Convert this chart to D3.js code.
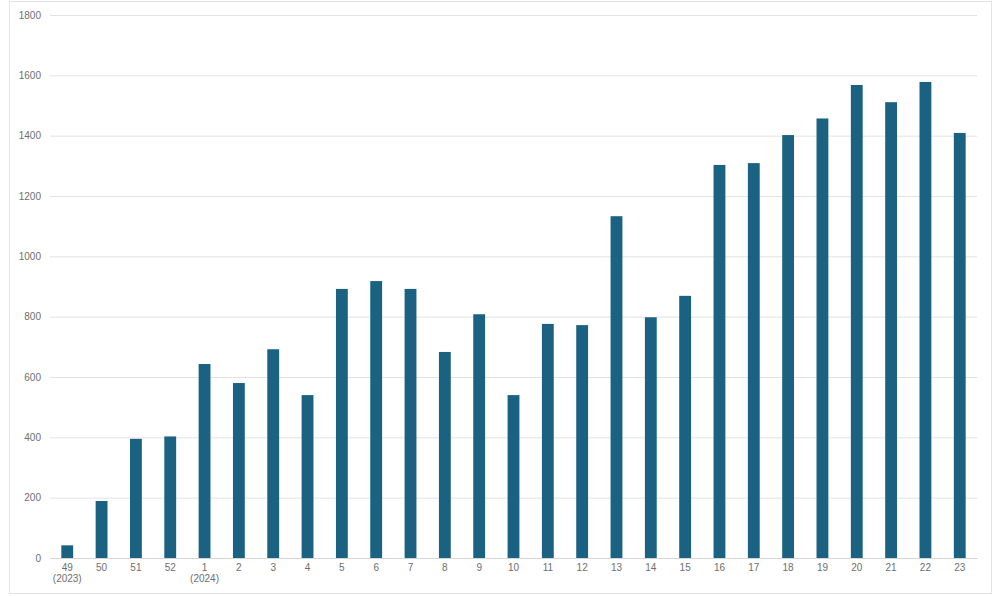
<!DOCTYPE html>
<html><head><meta charset="utf-8">
<script src="https://cdn.jsdelivr.net/npm/d3@7"></script>
<style>body{margin:0;background:#fff;} svg{display:block;}</style>
</head><body>
<svg id="c" width="1000" height="596"></svg>
<script>
const weeks = ["49","50","51","52","1","2","3","4","5","6","7","8","9","10","11","12","13","14","15","16","17","18","19","20","21","22","23"];
const yearLabels = {"49":"(2023)","1":"(2024)"};
const values = [42,189,395,403,643,580,692,540,892,918,892,683,808,540,776,772,1133,798,869,1303,1309,1402,1457,1568,1511,1578,1409];
const yTicks = [0,200,400,600,800,1000,1200,1400,1600,1800];

const svg = d3.select("#c");
svg.append("rect").attr("x",9.5).attr("y",1.5).attr("width",982).attr("height",592)
  .attr("fill","#fff").attr("stroke","#e3e3e3");

const x0=50, x1=977, yTop=15, yBot=558;
const idx = weeks.map((d,i)=>i);
const x = d3.scaleBand().domain(idx).range([x0,x1]).paddingInner(0.655).paddingOuter(0.33);
const y = d3.scaleLinear().domain([0,1800]).range([yBot,yTop]);

const yAxis = d3.axisLeft(y).tickValues(yTicks).tickSize(-(x1-x0)).tickPadding(9).tickFormat(d3.format("d"));
const gy = svg.append("g").attr("transform",`translate(${x0},0)`).call(yAxis);
gy.select(".domain").remove();
gy.selectAll(".tick line").attr("stroke","#e2e2e2").attr("stroke-width",1);
gy.selectAll(".tick text").attr("fill","#6e6e6e").attr("font-family","Liberation Sans, Arial, sans-serif").attr("font-size",10);

svg.append("g").selectAll("rect").data(values).join("rect")
  .attr("x",(d,i)=>x(i)).attr("width",x.bandwidth())
  .attr("y",d=>y(d)).attr("height",d=>yBot-y(d))
  .attr("fill","#1a6182");

const xAxis = d3.axisBottom(x).tickSize(0).tickPadding(6).tickFormat(i=>weeks[i]);
const gx = svg.append("g").attr("transform",`translate(0,${yBot})`).call(xAxis);
gx.select(".domain").attr("stroke","#d6d6d6");
gx.selectAll(".tick text").attr("fill","#6e6e6e").attr("font-family","Liberation Sans, Arial, sans-serif").attr("font-size",10)
  .each(function(i){
    const yl = yearLabels[weeks[i]];
    if(yl){
      d3.select(this.parentNode).append("text").attr("y",17).attr("dy","0.71em")
        .attr("text-anchor","middle").attr("fill","#6e6e6e")
        .attr("font-family","Liberation Sans, Arial, sans-serif").attr("font-size",10).text(yl);
    }
  });
</script>
</body></html>
